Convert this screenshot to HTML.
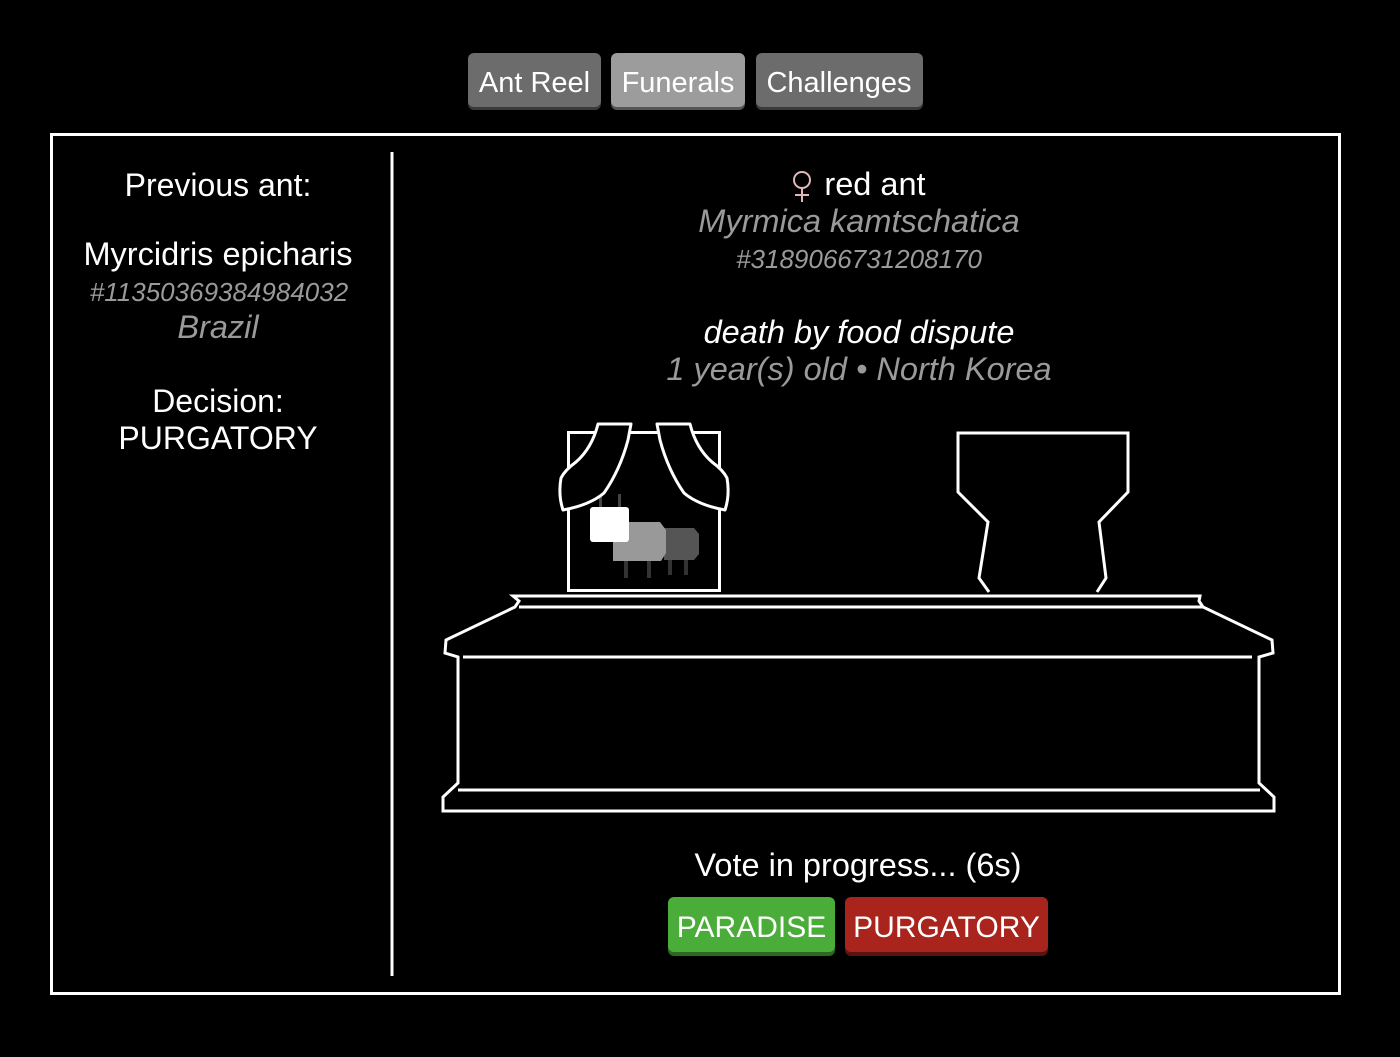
<!DOCTYPE html>
<html><head><meta charset="utf-8"><style>
html,body{margin:0;padding:0;background:#000;width:1400px;height:1057px;overflow:hidden}
svg{display:block}
text{font-family:"Liberation Sans",Arial,sans-serif}
</style></head><body>
<svg width="1400" height="1057" viewBox="0 0 1400 1057" xmlns="http://www.w3.org/2000/svg">
<rect width="1400" height="1057" fill="#000"/>
<!-- nav buttons -->
<rect x="468" y="55" width="133" height="55" rx="6" fill="#3a3a3a"/>
<rect x="468" y="53" width="133" height="54" rx="6" fill="#6c6c6c"/>
<rect x="611" y="55" width="134" height="55" rx="6" fill="#555"/>
<rect x="611" y="53" width="134" height="54" rx="6" fill="#9c9c9c"/>
<rect x="756" y="55" width="167" height="55" rx="6" fill="#3a3a3a"/>
<rect x="756" y="53" width="167" height="54" rx="6" fill="#6c6c6c"/>
<g fill="#fff" font-size="29" text-anchor="middle">
<text x="534.5" y="92">Ant Reel</text>
<text x="678" y="92">Funerals</text>
<text x="839" y="92">Challenges</text>
</g>
<!-- main frame -->
<rect x="51.5" y="134.5" width="1288" height="859" fill="none" stroke="#fff" stroke-width="3"/>
<line x1="392" y1="152" x2="392" y2="976" stroke="#fff" stroke-width="3"/>
<!-- left text -->
<g text-anchor="middle">
<text x="218" y="196" font-size="32" fill="#fff">Previous ant:</text>
<text x="218" y="265" font-size="32.5" fill="#fff">Myrcidris epicharis</text>
<text x="219" y="301" font-size="26" fill="#9a9a9a" font-style="italic">#11350369384984032</text>
<text x="218" y="338" font-size="32.5" fill="#9a9a9a" font-style="italic">Brazil</text>
<text x="218" y="412" font-size="32" fill="#fff">Decision:</text>
<text x="218" y="449" font-size="32" fill="#fff">PURGATORY</text>
</g>
<!-- right text -->
<g stroke="#e0b8b8" stroke-width="2" fill="none">
<circle cx="802" cy="180" r="8"/>
<line x1="802" y1="188" x2="802" y2="202"/>
<line x1="795" y1="195" x2="809" y2="195"/>
</g>
<g text-anchor="middle">
<text x="875" y="195" font-size="32.5" fill="#fff">red ant</text>
<text x="859" y="232" font-size="32.5" fill="#9a9a9a" font-style="italic">Myrmica kamtschatica</text>
<text x="859" y="268" font-size="26" fill="#9a9a9a" font-style="italic">#3189066731208170</text>
<text x="859" y="343" font-size="32.5" fill="#fff" font-style="italic">death by food dispute</text>
<text x="859" y="380" font-size="32.5" fill="#9a9a9a" font-style="italic">1 year(s) old • North Korea</text>
</g>
<!-- frame with ant -->
<rect x="568.5" y="432.5" width="151" height="158" fill="none" stroke="#fff" stroke-width="3"/>
<g>
<rect x="599" y="494" width="3" height="13" fill="#444"/>
<rect x="618" y="494" width="3" height="13" fill="#444"/>
<rect x="624" y="558" width="4" height="20" fill="#333"/>
<rect x="647" y="558" width="4" height="20" fill="#333"/>
<rect x="668" y="556" width="4" height="19" fill="#333"/>
<rect x="684" y="556" width="4" height="19" fill="#333"/>
<path d="M664 528 H694 L699 534 V554 L694 560 H664 Z" fill="#555"/>
<path d="M613 522 H660 L666 530 V553 L661 561 H613 Z" fill="#999"/>
<rect x="590" y="507" width="39" height="35" rx="3" fill="#fff"/>
</g>
<g stroke="#fff" stroke-width="3" fill="#000" stroke-linejoin="round">
<path d="M598 424 H631 L628 440 Q620 470 604 493 Q590 505 563 510 Q558 495 561 478 Q565 470 576 462 Q592 448 598 424 Z"/>
<path d="M690 424 H657 L660 440 Q668 470 684 493 Q698 505 725 510 Q730 495 727 478 Q723 470 712 462 Q696 448 690 424 Z"/>
</g>
<!-- vase -->
<path d="M989 592 L979 578 L988 522 L958 492 V433 H1128 V492 L1099 522 L1106 578 L1097 592" fill="none" stroke="#fff" stroke-width="3"/>
<!-- coffin -->
<g stroke="#fff" stroke-width="3" fill="none" stroke-linejoin="miter">
<path d="M513 596 H1200 L1199 601 L1203 607 L1272 640 L1273 653 L1259 657 V783 L1274 797 V811 H443 V797 L458 783 V657 L445 653 L446 640 L515 607 L519 601 Z" fill="#000"/>
<line x1="519" y1="607" x2="1203" y2="607"/>
<line x1="463" y1="657" x2="1252" y2="657"/>
<line x1="458" y1="790" x2="1260" y2="790"/>
</g>
<!-- vote -->
<text x="858" y="876" font-size="32.5" fill="#fff" text-anchor="middle">Vote in progress... (6s)</text>
<rect x="668" y="899" width="167" height="57" rx="6" fill="#2a6a20"/>
<rect x="668" y="897" width="167" height="55" rx="6" fill="#4aad3a"/>
<rect x="845" y="899" width="203" height="57" rx="6" fill="#5a1410"/>
<rect x="845" y="897" width="203" height="55" rx="6" fill="#a8241c"/>
<text x="751.5" y="937" font-size="30" fill="#fff" text-anchor="middle">PARADISE</text>
<text x="946.5" y="937" font-size="30" fill="#fff" text-anchor="middle">PURGATORY</text>
</svg>
</body></html>
